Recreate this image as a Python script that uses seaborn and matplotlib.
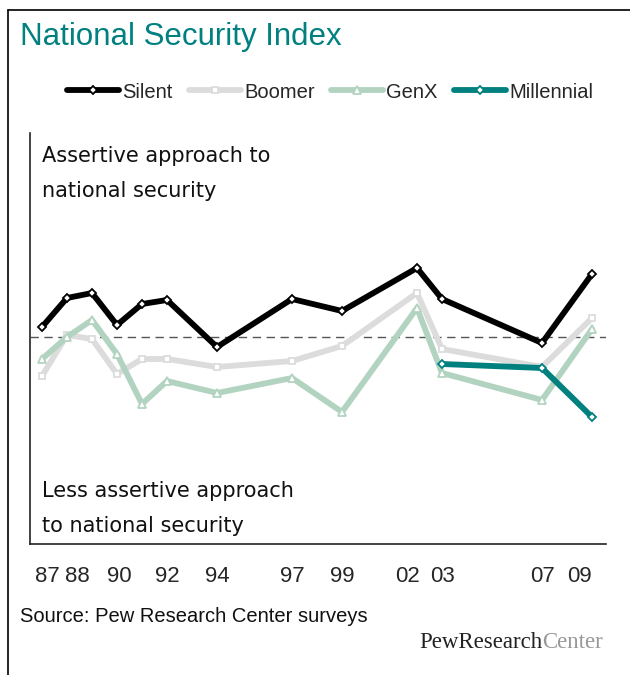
import matplotlib
matplotlib.use('Agg')
import matplotlib.pyplot as plt
import seaborn as sns
from matplotlib.lines import Line2D

# data (index values, 0 = dashed midline)
years = [1987, 1988, 1989, 1990, 1991, 1992, 1994, 1997, 1999, 2002, 2003, 2007, 2009]
silent = [1.0, 3.9, 4.4, 1.2, 3.3, 3.7, -1.0, 3.8, 2.6, 6.9, 3.8, -0.6, 6.3]
boomer = [-3.9, 0.2, -0.2, -3.7, -2.2, -2.2, -3.0, -2.4, -0.9, 4.4, -1.2, -3.0, 1.9]
genx = [-2.2, 0.0, 1.7, -1.7, -6.7, -4.4, -5.6, -4.1, -7.5, 2.9, -3.6, -6.3, 0.8]
mill_years = [2003, 2007, 2009]
millennial = [-2.7, -3.1, -8.0]
tick_labels = ['87', '88', '90', '92', '94', '97', '99', '02', '03', '07', '09']

sns.set_style('white')
plt.rcParams['font.family'] = ['Liberation Sans', 'DejaVu Sans']

fig = plt.figure(figsize=(6.3, 6.75), dpi=100)
ax = fig.add_axes([30 / 630, 1 - 544 / 675, 576 / 630, 411 / 675])

teal = '#00807f'
series = [
    ('Boomer', years, boomer, '#dcdcdc', 's', 4.5),
    ('GenX', years, genx, '#b3d3c1', '^', 6.0),
    ('Millennial', mill_years, millennial, teal, 'D', 4.5),
    ('Silent', years, silent, 'black', 'D', 4.5),
]
for name, xs, ys, col, mk, ms in series:
    sns.lineplot(x=xs, y=ys, ax=ax, color=col, linewidth=4.2, marker=mk,
                 markersize=ms, markerfacecolor='white', markeredgecolor=col,
                 markeredgewidth=1.3, label=name)

ax.axhline(0, color='#555555', linewidth=1, dashes=(6, 4), zorder=1)

ax.set_xlim(1986.52, 2009.56)
ax.set_ylim(-20.7, 20.4)
ax.set_xticks([1987.2, 1988.4, 1990.1, 1992, 1994, 1997, 1999, 2001.6, 2003, 2007, 2008.5])
ax.set_xticklabels(tick_labels, fontsize=16)
ax.set_yticks([])
ax.tick_params(axis='x', length=0, pad=16)
for s in ['top', 'right']:
    ax.spines[s].set_visible(False)
for s in ['left', 'bottom']:
    ax.spines[s].set_color('#222222')
    ax.spines[s].set_linewidth(1.2)

# legend order as in the reference
handles, labels = ax.get_legend_handles_labels()
order = [labels.index(n) for n in ['Silent', 'Boomer', 'GenX', 'Millennial']]
ax.legend([handles[i] for i in order], [labels[i] for i in order],
          loc='center', bbox_to_anchor=(330 / 630, 1 - 92 / 675),
          bbox_transform=fig.transFigure, ncol=4, frameon=False, fontsize=14.5,
          handlelength=2.6, handletextpad=0.15, columnspacing=0.8)

# annotations inside the plot
ax.text(0.02, 0.945, 'Assertive approach to', transform=ax.transAxes, fontsize=15,
        family='DejaVu Sans', va='center', color='#111111')
ax.text(0.02, 0.86, 'national security', transform=ax.transAxes, fontsize=15,
        family='DejaVu Sans', va='center', color='#111111')
ax.text(0.02, 0.128, 'Less assertive approach', transform=ax.transAxes, fontsize=15,
        family='DejaVu Sans', va='center', color='#111111')
ax.text(0.02, 0.043, 'to national security', transform=ax.transAxes, fontsize=15,
        family='DejaVu Sans', va='center', color='#111111')

# title, source and frame
fig.text(20 / 630, 1 - 37 / 675, 'National Security Index', fontsize=22.5,
         color=teal, va='center')
fig.text(20 / 630, 1 - 616 / 675, 'Source: Pew Research Center surveys', fontsize=14.5,
         va='center', color='#111111')
c = fig.text(603 / 630, 1 - 642 / 675, 'Center', fontsize=16.5, family='Liberation Serif',
             color='#999999', ha='right', va='center')
fig.canvas.draw()
bb = c.get_window_extent(fig.canvas.get_renderer())
fig.text(bb.x0 / fig.bbox.width, 1 - 642 / 675, 'PewResearch', fontsize=16.5,
         family='Liberation Serif', color='#222222', ha='right', va='center')

fig.add_artist(Line2D([8 / 630, 1], [1 - 10 / 675, 1 - 10 / 675], color='black', linewidth=1.2))
fig.add_artist(Line2D([8 / 630, 8 / 630], [0, 1 - 10 / 675], color='black', linewidth=1.2))

fig.savefig('out.png', dpi=100)
